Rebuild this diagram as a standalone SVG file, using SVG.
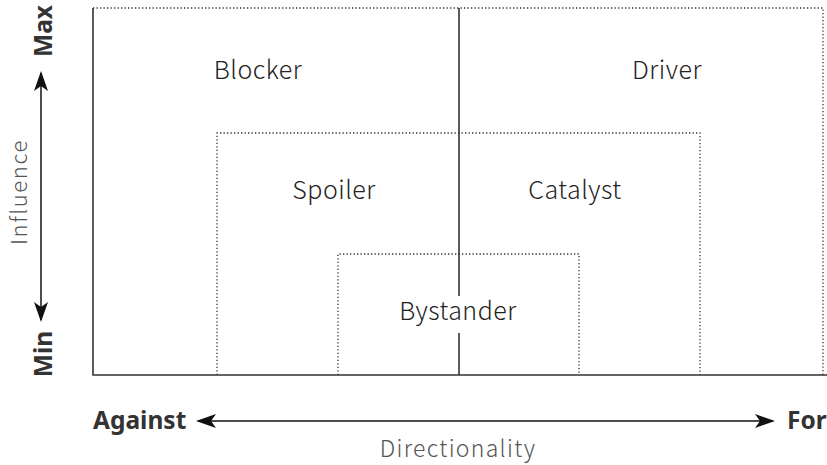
<svg xmlns="http://www.w3.org/2000/svg" width="827" height="465" viewBox="0 0 827 465">
  <style>
    .solid { stroke: #333; stroke-width: 1.6; fill: none; }
    .dot { stroke: #333; stroke-width: 1.3; stroke-dasharray: 1.3 2.2; fill: none; }
    .zone { font-family: "Noto Sans CJK JP", "Noto Sans", sans-serif; font-weight: 300; font-size: 25px; letter-spacing: 0.5px; fill: #222; text-anchor: middle; }
    .end { font-family: "Noto Sans", "Liberation Sans", sans-serif; font-weight: 700; font-size: 24.5px; fill: #333; }
    .axis { font-family: "Noto Sans CJK JP", "Noto Sans", sans-serif; font-weight: 300; font-size: 23px; letter-spacing: 1.3px; fill: #555; text-anchor: middle; }
    .arrow { stroke: #111; stroke-width: 1.5; fill: none; }
  </style>
  <defs>
    <marker id="head" viewBox="0 0 20 14" refX="18" refY="7" markerWidth="20" markerHeight="14" markerUnits="userSpaceOnUse" orient="auto-start-reverse">
      <path d="M0,0 L20,7 L0,14 L5,7 Z" fill="#111"/>
    </marker>
  </defs>

  <!-- nested zones -->
  <g id="outer-zone">
    <path class="dot" d="M93,8 H823 V375"/>
    <path class="solid" d="M93,8 V375 H827"/>
  </g>
  <g id="middle-zone">
    <path class="dot" d="M217,375 V133 H700 V375"/>
  </g>
  <g id="inner-zone">
    <path class="dot" d="M338,375 V254 H579 V375"/>
  </g>

  <g id="connectors">
    <!-- centre divider, broken around the Bystander label -->
    <path class="solid" d="M459,8 V296 M459,333 V375"/>
    <!-- directionality axis -->
    <line class="arrow" x1="198" y1="421" x2="773" y2="421" marker-start="url(#head)" marker-end="url(#head)"/>
    <!-- influence axis -->
    <line class="arrow" x1="41" y1="73" x2="41" y2="320" marker-start="url(#head)" marker-end="url(#head)"/>
  </g>

  <g id="blocker"><text class="zone" x="258" y="79">Blocker</text></g>
  <g id="driver"><text class="zone" x="667" y="79">Driver</text></g>
  <g id="spoiler"><text class="zone" x="334" y="199">Spoiler</text></g>
  <g id="catalyst"><text class="zone" x="575" y="199">Catalyst</text></g>
  <g id="bystander"><text class="zone" x="458" y="320">Bystander</text></g>

  <g id="axis-labels">
    <text class="end" x="93" y="429">Against</text>
    <text class="end" x="787" y="429">For</text>
    <text class="axis" x="458" y="457">Directionality</text>
    <text class="end" text-anchor="middle" transform="translate(52,31) rotate(-90)">Max</text>
    <text class="end" text-anchor="middle" transform="translate(52,354) rotate(-90)">Min</text>
    <text class="axis" style="font-size:22px;letter-spacing:1.6px" transform="translate(27,192) rotate(-90)">Influence</text>
  </g>
</svg>
